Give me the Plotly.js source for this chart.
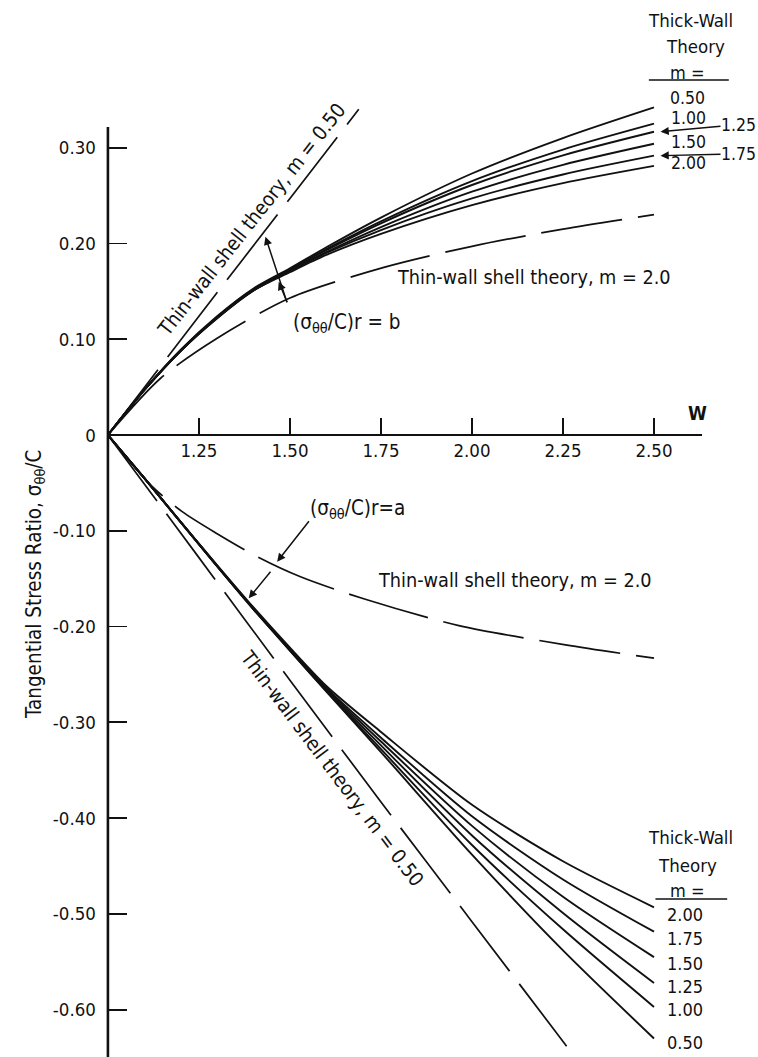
<!DOCTYPE html>
<html>
<head>
<meta charset="utf-8">
<script src="https://cdn.plot.ly/plotly-3.0.1.min.js"></script>
<style>html,body{margin:0;padding:0;background:#fff;}#chart{width:758px;height:1057px;}</style>
</head>
<body>
<div id="chart"></div>
<script>
// ---- data ----
const W_GRID = [1.0, 1.1, 1.2, 1.3, 1.4, 1.5, 1.6, 1.75, 2.0, 2.25, 2.5];
const M_LABELS = ['0.50', '1.00', '1.25', '1.50', '1.75', '2.00'];

// thick-wall theory, (sigma/C) at r = b (upper family)
const THICK_B_050 = [0, 0.047, 0.089, 0.124, 0.153, 0.174, 0.196, 0.227, 0.273, 0.310, 0.342];
const THICK_B_100 = [0, 0.047, 0.088, 0.123, 0.152, 0.173, 0.194, 0.223, 0.265, 0.298, 0.325];
const THICK_B_125 = [0, 0.047, 0.088, 0.123, 0.152, 0.173, 0.193, 0.221, 0.261, 0.292, 0.3166];
const THICK_B_150 = [0, 0.047, 0.088, 0.123, 0.151, 0.172, 0.191, 0.217, 0.254, 0.282, 0.304];
const THICK_B_175 = [0, 0.047, 0.088, 0.122, 0.151, 0.171, 0.190, 0.214, 0.247, 0.272, 0.2916];
const THICK_B_200 = [0, 0.047, 0.088, 0.122, 0.151, 0.170, 0.188, 0.210, 0.240, 0.263, 0.281];

// thick-wall theory, (sigma/C) at r = a (lower family)
const THICK_A_050 = [0, -0.045, -0.091, -0.137, -0.182, -0.225, -0.268, -0.331, -0.438, -0.538, -0.630];
const THICK_A_100 = [0, -0.045, -0.091, -0.137, -0.182, -0.225, -0.267, -0.328, -0.428, -0.516, -0.597];
const THICK_A_125 = [0, -0.045, -0.091, -0.137, -0.182, -0.224, -0.266, -0.324, -0.418, -0.499, -0.572];
const THICK_A_150 = [0, -0.045, -0.091, -0.137, -0.181, -0.224, -0.265, -0.320, -0.408, -0.482, -0.545];
const THICK_A_175 = [0, -0.045, -0.091, -0.136, -0.181, -0.223, -0.264, -0.316, -0.398, -0.464, -0.5185];
const THICK_A_200 = [0, -0.045, -0.091, -0.136, -0.180, -0.222, -0.262, -0.310, -0.386, -0.445, -0.493];

// thin-wall shell theory
const THIN05_UP_W = [1.0, 1.25, 1.5, 1.689];
const THIN05_UP_Y = [0, 0.124, 0.247, 0.340];
const THIN05_LO_W = [1.0, 1.25, 1.5, 1.75, 2.0, 2.26];
const THIN05_LO_Y = [0, -0.128, -0.256, -0.383, -0.508, -0.638];
const THIN2_UP_W = [1.0, 1.144, 1.3, 1.5, 1.758, 2.0, 2.25, 2.5];
const THIN2_UP_Y = [0, 0.059, 0.101, 0.143, 0.175, 0.197, 0.215, 0.230];
const THIN2_LO_W = [1.0, 1.117, 1.204, 1.3, 1.41, 1.529, 1.707, 1.964, 2.257, 2.5];
const THIN2_LO_Y = [0, -0.052, -0.080, -0.103, -0.127, -0.148, -0.1715, -0.199, -0.219, -0.233];

// axis ticks
const X_TICKS = [1.25, 1.5, 1.75, 2.0, 2.25, 2.5];
const X_TICKTEXT = ['1.25', '1.50', '1.75', '2.00', '2.25', '2.50'];
const Y_TICKS = [0.3, 0.2, 0.1, 0, -0.1, -0.2, -0.3, -0.4, -0.5, -0.6];
const Y_TICKTEXT = ['0.30', '0.20', '0.10', '0', '-0.10', '-0.20', '-0.30', '-0.40', '-0.50', '-0.60'];
const Y_TITLE = 'Tangential Stress Ratio, σ<sub>θθ</sub>/C';

// ---- styling ----
const FONT = 'DejaVu Sans Condensed, DejaVu Sans, sans-serif';
const INK = '#111';
const XR = [0.97, 2.75];
const YR = [-0.6493, 0.4489];

const thickB = [THICK_B_050, THICK_B_100, THICK_B_125, THICK_B_150, THICK_B_175, THICK_B_200];
const thickA = [THICK_A_050, THICK_A_100, THICK_A_125, THICK_A_150, THICK_A_175, THICK_A_200];

const traces = [];
thickB.forEach((ys, i) => traces.push({
  x: W_GRID, y: ys, mode: 'lines', name: 'b, m=' + M_LABELS[i],
  line: {color: INK, width: 1.9, shape: 'spline', smoothing: 0.8}, hoverinfo: 'skip'
}));
thickA.forEach((ys, i) => traces.push({
  x: W_GRID, y: ys, mode: 'lines', name: 'a, m=' + M_LABELS[i],
  line: {color: INK, width: 1.9, shape: 'spline', smoothing: 0.8}, hoverinfo: 'skip'
}));
const dashed = (xs, ys, nm) => ({
  x: xs, y: ys, mode: 'lines', name: nm,
  line: {color: INK, width: 1.7, dash: '82px,16px', shape: 'spline', smoothing: 0.8}, hoverinfo: 'skip'
});
traces.push(dashed(THIN05_UP_W, THIN05_UP_Y, 'thin m=0.50 b'));
traces.push(dashed(THIN05_LO_W, THIN05_LO_Y, 'thin m=0.50 a'));
traces.push(dashed(THIN2_UP_W, THIN2_UP_Y, 'thin m=2.0 b'));
traces.push(dashed(THIN2_LO_W, THIN2_LO_Y, 'thin m=2.0 a'));

const f = (s) => ({family: FONT, size: s, color: INK});
const txt = (x, y, text, size, extra) => Object.assign({
  x: x, y: y, xref: 'x', yref: 'y', text: text, showarrow: false,
  font: f(size), xanchor: 'center', yanchor: 'middle'
}, extra || {});
const arr = (x, y, ax, ay) => ({
  x: x, y: y, xref: 'x', yref: 'y', text: '', showarrow: true, ax: ax, ay: ay,
  arrowhead: 2, arrowsize: 1.1, arrowwidth: 1.5, arrowcolor: INK
});
const labArr = (x, y, text, ax, ay) => ({
  x: x, y: y, xref: 'x', yref: 'y', text: text, showarrow: true, ax: ax, ay: ay,
  arrowhead: 2, arrowsize: 1.1, arrowwidth: 1.5, arrowcolor: INK, borderpad: 0,
  font: f(17.5)
});

const annotations = [
  // upper header
  txt(2.600, 0.4327, 'Thick-Wall', 18.5),
  txt(2.614, 0.406, 'Theory', 18.5),
  txt(2.592, 0.378, 'm =', 18),
  txt(2.591, 0.3517, M_LABELS[0], 17.5),
  txt(2.5956, 0.3310, M_LABELS[1], 17.5),
  txt(2.5956, 0.3056, M_LABELS[3], 17.5),
  txt(2.5956, 0.2836, M_LABELS[5], 17.5),
  labArr(2.5179, 0.3166, M_LABELS[2], 78, -7),
  labArr(2.5179, 0.2916, M_LABELS[4], 78, -2),
  // lower header
  txt(2.600, -0.4201, 'Thick-Wall', 18.5),
  txt(2.5934, -0.4499, 'Theory', 18.5),
  txt(2.5912, -0.476, 'm =', 18),
  txt(2.5865, -0.5003, M_LABELS[5], 18),
  txt(2.5865, -0.5254, M_LABELS[4], 18),
  txt(2.5865, -0.5515, M_LABELS[3], 18),
  txt(2.5865, -0.5759, M_LABELS[2], 18),
  txt(2.5865, -0.6002, M_LABELS[1], 18),
  txt(2.5865, -0.6343, M_LABELS[0], 18),
  // curve labels
  txt(1.3937, 0.2244, 'Thin-wall shell theory, m = 0.50', 20, {textangle: -51.8}),
  txt(1.616, -0.3471, 'Thin-wall shell theory, m = 0.50', 20, {textangle: 53}),
  txt(2.1698, 0.1649, 'Thin-wall shell theory, m = 2.0', 19.7),
  txt(2.1195, -0.1521, 'Thin-wall shell theory, m = 2.0', 19.7),
  txt(1.6544, 0.1166, '(σ<sub>θθ</sub>/C)r = b', 20.5),
  txt(1.6863, -0.0776, '(σ<sub>θθ</sub>/C)r=a', 20.5),
  txt(2.6203, 0.0227, '<b>W</b>', 19),
  // y-axis title
  {x: -0.0957, xref: 'paper', y: -0.1555, yref: 'y', text: Y_TITLE, showarrow: false,
   textangle: -90, font: f(20.5), xanchor: 'center', yanchor: 'middle'},
  // pointers
  arr(1.4327, 0.207, 22, 67),
  arr(1.4692, 0.160, 9, 22),
  arr(1.4648, -0.1323, 33, -42),
  arr(1.3868, -0.1705, 23, -28)
];

const hline = (x0, x1, y, w) => ({type: 'line', xref: 'x', yref: 'y', x0: x0, x1: x1, y0: y, y1: y, line: {color: INK, width: w}});
const shapes = [
  // axis lines
  {type: 'line', xref: 'x', yref: 'y', x0: 1.0, x1: 1.0, y0: YR[0], y1: 0.3215, line: {color: INK, width: 2.6}},
  hline(1.0, 2.632, 0, 2.2),
  // header underlines
  hline(2.486, 2.7055, 0.3706, 1.5),
  hline(2.504, 2.7011, -0.4843, 1.5)
];

const layout = {
  width: 758, height: 1057,
  margin: {l: 97, r: 13, t: 5, b: 0, pad: 0},
  paper_bgcolor: '#fff', plot_bgcolor: '#fff',
  showlegend: false,
  font: {family: FONT, size: 18, color: INK},
  xaxis: {
    range: XR, anchor: 'free', position: (0 - YR[0]) / (YR[1] - YR[0]),
    showgrid: false, zeroline: false, showline: false,
    tickmode: 'array', tickvals: X_TICKS, ticktext: X_TICKTEXT,
    ticks: 'inside', ticklen: 17, tickwidth: 1.8, tickcolor: INK,
    ticklabelstandoff: 2,
    tickfont: f(18.5)
  },
  yaxis: {
    range: YR, anchor: 'free', position: (1.0 - XR[0]) / (XR[1] - XR[0]),
    showgrid: false, zeroline: false, showline: false,
    tickmode: 'array', tickvals: Y_TICKS, ticktext: Y_TICKTEXT,
    ticks: 'inside', ticklen: 18, tickwidth: 1.8, tickcolor: INK,
    ticklabelstandoff: 12,
    tickfont: f(18.5)
  },
  shapes: shapes,
  annotations: annotations
};

Plotly.newPlot('chart', traces, layout, {staticPlot: true, displayModeBar: false});
</script>
</body>
</html>
